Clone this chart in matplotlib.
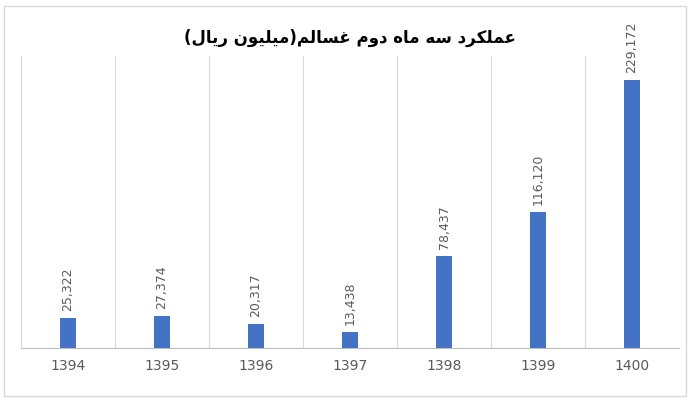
import matplotlib
matplotlib.use("Agg")
import matplotlib.pyplot as plt
from matplotlib.patches import Rectangle

years = ["1394", "1395", "1396", "1397", "1398", "1399", "1400"]
values = [25322, 27374, 20317, 13438, 78437, 116120, 229172]
title_fa = "عملکرد سه ماه دوم غسالم(میلیون ریال)"

FORMS = {  # iso, fin, ini, med
    'ع': ('\uFEC9', '\uFECA', '\uFECB', '\uFECC'),
    'م': ('\uFEE1', '\uFEE2', '\uFEE3', '\uFEE4'),
    'ل': ('\uFEDD', '\uFEDE', '\uFEDF', '\uFEE0'),
    'ک': ('\uFB8E', '\uFB8F', '\uFB90', '\uFB91'),
    'س': ('\uFEB1', '\uFEB2', '\uFEB3', '\uFEB4'),
    'ه': ('\uFEE9', '\uFEEA', '\uFEEB', '\uFEEC'),
    'غ': ('\uFECD', '\uFECE', '\uFECF', '\uFED0'),
    'ی': ('\uFBFC', '\uFBFD', '\uFBFE', '\uFBFF'),
    'ن': ('\uFEE5', '\uFEE6', '\uFEE7', '\uFEE8'),
    'ر': ('\uFEAD', '\uFEAE', None, None),
    'د': ('\uFEA9', '\uFEAA', None, None),
    'ا': ('\uFE8D', '\uFE8E', None, None),
    'و': ('\uFEED', '\uFEEE', None, None),
}

def joins_next(c):
    return c in FORMS and FORMS[c][2] is not None

def shape(s):
    out = []
    for i, c in enumerate(s):
        if c not in FORMS:
            out.append(c); continue
        prev = s[i-1] if i > 0 else ''
        nxt = s[i+1] if i + 1 < len(s) else ''
        jp = joins_next(prev)
        jn = joins_next(c) and nxt in FORMS
        f = FORMS[c]
        if jp and jn: out.append(f[3])
        elif jp: out.append(f[1])
        elif jn: out.append(f[2])
        else: out.append(f[0])
    vis = ''.join(out)[::-1]
    return vis.translate(str.maketrans('()', ')('))

fig = plt.figure(figsize=(7, 4), dpi=100)
ax = fig.add_axes([0.03, 0.13, 0.94, 0.73])
x = list(range(len(years)))
ax.bar(x, values, width=0.18, color="#4472C4", zorder=3)
for xi, v in zip(x, values):
    ax.text(xi, v + 6000, f"{v:,}", rotation=90, ha="center", va="bottom",
            fontsize=9, color="#595959")
ax.set_xlim(-0.5, len(years) - 0.5)
ax.set_ylim(0, 250000)
for b in range(len(years) + 1):
    ax.axvline(b - 0.5, color="#D9D9D9", lw=0.8, zorder=1)
ax.set_xticks(x)
ax.set_xticklabels(years, fontsize=10, color="#595959")
ax.tick_params(axis="x", length=0, pad=8)
ax.set_yticks([])
for s in ["top", "left", "right"]:
    ax.spines[s].set_visible(False)
ax.spines["bottom"].set_color("#BFBFBF")
fig.text(0.5, 0.905, shape(title_fa), ha="center", va="center",
         fontsize=12, fontweight="bold", family="DejaVu Sans")
fig.patches.append(Rectangle((0.005, 0.01), 0.975, 0.975, transform=fig.transFigure,
                             fill=False, edgecolor="#D9D9D9", lw=1))
fig.savefig("out.png", dpi=100)
